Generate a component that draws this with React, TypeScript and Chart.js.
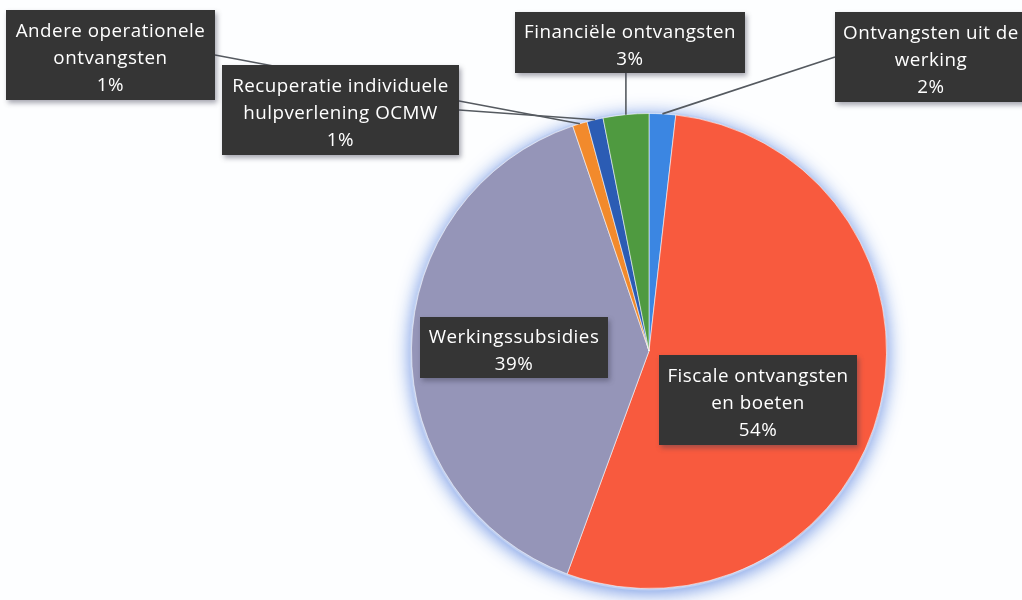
import React, { useEffect, useRef } from 'react';
import { Chart, registerables } from 'chart.js';

Chart.register(...registerables);

// ---- data ----
const categories = [
  'Ontvangsten uit de werking',
  'Fiscale ontvangsten en boeten',
  'Werkingssubsidies',
  'Andere operationele ontvangsten',
  'Recuperatie individuele hulpverlening OCMW',
  'Financiële ontvangsten',
];
const shares = [1.8, 53.8, 39.2, 1.0, 1.1, 3.1];
const percentLabels = ['2%', '54%', '39%', '1%', '1%', '3%'];
const labelLines = [
  ['Ontvangsten uit de', 'werking'],
  ['Fiscale ontvangsten', 'en boeten'],
  ['Werkingssubsidies'],
  ['Andere operationele', 'ontvangsten'],
  ['Recuperatie individuele', 'hulpverlening OCMW'],
  ['Financiële ontvangsten'],
];
const sliceColors = ['#3b86e2', '#f85a3e', '#9595b8', '#f28a2c', '#2b5cb4', '#4f9a40'];

// ---- label layout (box in canvas px, leader start side) ----
const labelBoxes = [
  { x: 835, y: 12, w: 192, h: 90, leader: 'left', ly: 57 },
  { x: 659, y: 355, w: 198, h: 90, leader: null, ly: 0 },
  { x: 420, y: 317, w: 188, h: 61, leader: null, ly: 0 },
  { x: 6, y: 10, w: 209, h: 90, leader: 'right', ly: 55 },
  { x: 222, y: 65, w: 237, h: 90, leader: 'right', ly: 110 },
  { x: 515, y: 12, w: 230, h: 61, leader: 'bottom', ly: 0 },
];

const FONT = '500 18.8px "Open Sans", sans-serif';
const LINE_H = 27;

const labelPlugin = {
  id: 'boxLabels',
  beforeDatasetsDraw(chart: any) {
    const meta = chart.getDatasetMeta(0);
    const arc = meta.data[0];
    if (!arc) return;
    const ctx = chart.ctx;
    ctx.save();
    ctx.shadowColor = 'rgba(100,140,225,0.9)';
    ctx.shadowBlur = 18;
    ctx.shadowOffsetX = 0;
    ctx.shadowOffsetY = 3;
    ctx.fillStyle = '#c0d0f2';
    ctx.beginPath();
    ctx.arc(arc.x, arc.y, arc.outerRadius + 2, 0, Math.PI * 2);
    ctx.fill();
    ctx.restore();
  },
  afterDatasetsDraw(chart: any) {
    const ctx = chart.ctx;
    const meta = chart.getDatasetMeta(0);
    ctx.save();
    // leader lines first (behind boxes)
    ctx.strokeStyle = '#555a60';
    ctx.lineWidth = 1.6;
    meta.data.forEach((el: any, i: number) => {
      const b = labelBoxes[i];
      if (!b.leader) return;
      const mid = (el.startAngle + el.endAngle) / 2;
      const px = el.x + Math.cos(mid) * el.outerRadius;
      const py = el.y + Math.sin(mid) * el.outerRadius;
      let sx = b.x, sy = b.ly;
      if (b.leader === 'right') sx = b.x + b.w;
      if (b.leader === 'bottom') { sx = px; sy = b.y + b.h; }
      ctx.beginPath();
      ctx.moveTo(sx, sy);
      ctx.lineTo(px, py);
      ctx.stroke();
    });
    // boxes
    meta.data.forEach((el: any, i: number) => {
      const b = labelBoxes[i];
      ctx.save();
      ctx.shadowColor = 'rgba(60,60,80,0.45)';
      ctx.shadowBlur = 5;
      ctx.shadowOffsetX = 2;
      ctx.shadowOffsetY = 3;
      ctx.fillStyle = '#353535';
      ctx.fillRect(b.x, b.y, b.w, b.h);
      ctx.restore();
      const lines = [...labelLines[i], percentLabels[i]];
      ctx.fillStyle = '#ffffff';
      ctx.font = FONT;
      (ctx as any).letterSpacing = '0.5px';
      ctx.textAlign = 'center';
      ctx.textBaseline = 'middle';
      const cx = b.x + b.w / 2;
      const top = b.y + (b.h - lines.length * LINE_H) / 2 + LINE_H / 2 + 4;
      lines.forEach((t, k) => ctx.fillText(t, cx, top + k * LINE_H));
    });
    ctx.restore();
  },
};

export default function App() {
  const ref = useRef<HTMLCanvasElement | null>(null);
  useEffect(() => {
    if (!ref.current) return;
    const chart = new Chart(ref.current, {
      type: 'pie',
      data: {
        labels: categories,
        datasets: [
          {
            data: shares,
            backgroundColor: sliceColors,
            borderColor: 'rgba(255,255,255,0.55)',
            borderWidth: 1,
          },
        ],
      },
      options: {
        responsive: false,
        animation: false,
        layout: { padding: { left: 411, right: 135, top: 113, bottom: 11 } },
        plugins: {
          legend: { display: false },
          tooltip: { enabled: false },
        },
      },
      plugins: [labelPlugin],
    });
    return () => chart.destroy();
  }, []);
  return (
    <div style={{ position: 'fixed', left: 0, top: 0, width: 1022, height: 600, background: '#fdfeff' }}>
      <canvas ref={ref} width={1022} height={600} />
    </div>
  );
}
